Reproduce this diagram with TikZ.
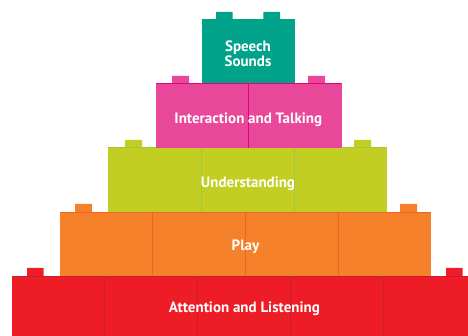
\documentclass[tikz,border=0pt]{standalone}
\usepackage{fontspec}
\setmainfont{PT Sans}
\usetikzlibrary{positioning}

\definecolor{speechteal}{RGB}{0,163,138}
\definecolor{talkpink}{RGB}{233,72,154}
\definecolor{talkline}{RGB}{228,0,126}
\definecolor{understandgreen}{RGB}{194,206,34}
\definecolor{understandline}{RGB}{160,200,60}
\definecolor{playorange}{RGB}{245,130,42}
\definecolor{playline}{RGB}{240,100,35}
\definecolor{listenred}{RGB}{237,28,39}
\definecolor{listenline}{RGB}{200,30,45}

\begin{document}
\begin{tikzpicture}[x=1pt,y=-1pt,
                    tier/.style={text=white,font=\fontsize{15}{15}\selectfont\bfseries,
                                 inner sep=0pt,anchor=base,align=center},
                    seam/.style={line width=0.8pt}]

  \useasboundingbox (0,0) rectangle (468,336);

  % bottom row
  \fill[listenred] (12,276) rectangle (476,336);
  \fill[listenred] (27,268) rectangle (43.7,276) (446,268) rectangle (462.7,276);
  \draw[seam,listenline] (12,276) -- (476,276);
  \foreach \x in {104.7,197.7,290.3,383.3}
    \draw[seam,listenline] (\x,276) -- (\x,336);
  \node[tier] (listening) at (244.4,312.3) {Attention and Listening};

  % second row
  \fill[playorange] (60,212.3) rectangle (431,276);
  \fill[playorange] (75,204) rectangle (92,212.3) (400,204) rectangle (417,212.3);
  \draw[seam,playline] (60,212.3) -- (431,212.3);
  \foreach \x in {152.3,245.7,338.3}
    \draw[seam,playline] (\x,212.3) -- (\x,276);
  \node[tier] (play) at (245.5,250.3) {Play};

  % third row
  \fill[understandgreen] (108.3,147.7) rectangle (386.7,212.3);
  \fill[understandgreen] (125,140) rectangle (142,147.7) (354,140) rectangle (371,147.7);
  \draw[seam,understandline] (108.3,147.7) -- (386.7,147.7);
  \foreach \x in {201.7,294.3}
    \draw[seam,understandline] (\x,147.7) -- (\x,212.3);
  \node[tier] (understanding) at (248,187.7) {Understanding};

  % fourth row
  \fill[talkpink] (156,83) rectangle (341.7,147.7);
  \fill[talkpink] (172,76) rectangle (189,83) (308,76) rectangle (325,83);
  \draw[seam,talkline] (156,83) -- (341.7,83);
  \draw[seam,talkline] (248.7,83) -- (248.7,147.7);
  \node[tier] (talking) at (248.3,124) {Interaction and Talking};

  % top brick
  \fill[speechteal] (201.7,19) rectangle (295,83);
  \fill[speechteal] (216,12) rectangle (232.7,19) (263.3,12) rectangle (280,19);
  \node[tier] (speech) at (248,66.7) {Speech\\Sounds};

\end{tikzpicture}
\end{document}
